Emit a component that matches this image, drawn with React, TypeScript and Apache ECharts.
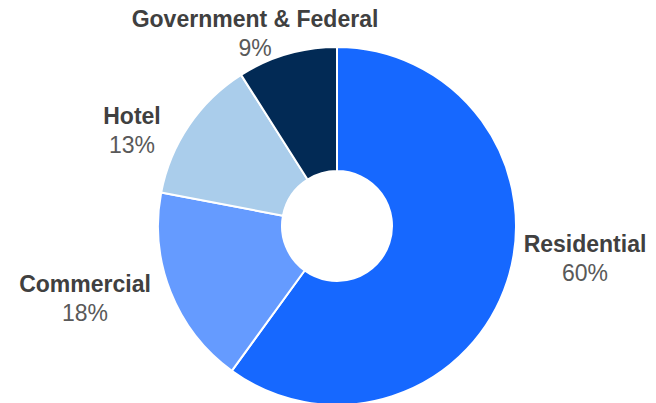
import React, { useEffect, useRef } from "react";
import * as echarts from "echarts";

const categories = ["Residential", "Commercial", "Hotel", "Government & Federal"];
const values = [60, 18, 13, 9];
const colors = ["#1668FF", "#659BFF", "#AACDEB", "#022A55"];

// label block centers (layout setting, not data)
const labelCenters: [number, number][] = [
  [585, 258],
  [85, 298],
  [132, 130],
  [255, 33],
];

export default function App() {
  const ref = useRef<HTMLDivElement>(null);
  useEffect(() => {
    if (!ref.current) return;
    const chart = echarts.init(ref.current, null, { renderer: "svg" });
    chart.setOption({
      animation: false,
      series: [
        {
          type: "pie",
          center: [337, 226],
          radius: [55, 179],
          startAngle: 90,
          clockwise: true,
          avoidLabelOverlap: false,
          itemStyle: { borderColor: "#ffffff", borderWidth: 2 },
          labelLine: { show: false },
          label: {
            show: true,
            position: "outside",
            formatter: (p: any) => `{n|${p.name}}\n{p|${Math.round(p.percent)}%}`,
            rich: {
              n: {
                fontFamily: "Liberation Sans, Arial, sans-serif",
                fontWeight: "bold",
                fontSize: 23,
                color: "#404040",
                lineHeight: 29,
                align: "center",
              },
              p: {
                fontFamily: "Liberation Sans, Arial, sans-serif",
                fontSize: 23,
                color: "#595959",
                lineHeight: 29,
                align: "center",
              },
            },
          },
          labelLayout: (params: any) => {
            const c = labelCenters[params.dataIndex];
            return { x: c[0], y: c[1], align: "center", verticalAlign: "middle" };
          },
          data: categories.map((name, i) => ({
            name,
            value: values[i],
            itemStyle: { color: colors[i] },
          })),
        },
      ],
    });
    return () => chart.dispose();
  }, []);
  return (
    <div
      ref={ref}
      style={{ position: "absolute", left: 0, top: 0, width: 656, height: 403, background: "#fff" }}
    />
  );
}
